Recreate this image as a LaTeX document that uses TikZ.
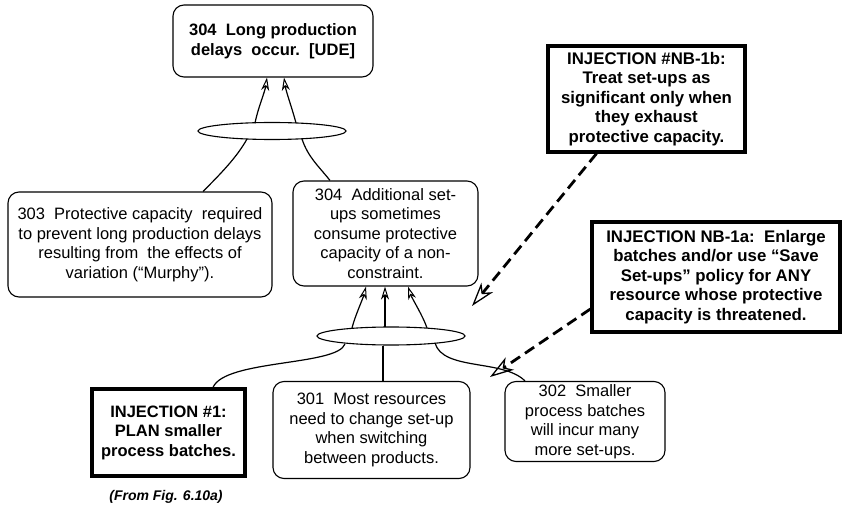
\documentclass[tikz,border=0pt]{standalone}
\usepackage{fontspec}
\setmainfont{Liberation Sans}
\usetikzlibrary{shapes.geometric,arrows.meta,calc}
\begin{document}
\begin{tikzpicture}[x=1pt,y=-1pt,
  every node/.style={font=\fontsize{16.5}{19.5}\selectfont, align=center, inner sep=0pt},
  rbox/.style={draw, rounded corners=11pt, line width=1.1pt},
  ibox/.style={draw, line width=3.2pt, font=\fontsize{16.8}{19.5}\selectfont\bfseries},
  oval/.style={draw, ellipse, line width=1.1pt, inner sep=0pt},
  arr/.style={line width=1.2pt, -{Stealth[open,length=13pt,width=8pt,inset=4pt,line width=1pt]}},
  conn/.style={line width=1.2pt},
  darr/.style={line width=2.8pt, dash pattern=on 11pt off 6pt, -{Stealth[open,length=24pt,width=15pt,inset=7pt,line width=1.3pt]}}
]
\useasboundingbox (0,0) rectangle (845,510);

\node[rbox, minimum width=200pt, minimum height=72pt, font=\fontsize{16.5}{19.5}\selectfont\bfseries] (ude) at (273,41) {304\ \ Long production\\delays\ \ occur.\ \ [UDE]};
\node[oval, minimum width=148pt, minimum height=17pt] (e1) at (272,131) {};
\node[rbox, minimum width=264pt, minimum height=105pt] (b303) at (140,244.5) {303\ \ Protective capacity\ \ required\\to prevent long production delays\\resulting from\ \ the effects of\\variation (“Murphy”).};
\node[rbox, minimum width=185pt, minimum height=105pt] (b304) at (385.5,233.5) {304\ \ Additional set-\\ups sometimes\\consume protective\\capacity of a non-\\constraint.};
\node[oval, minimum width=148pt, minimum height=18pt] (e2) at (391,336) {};
\node[ibox, font=\fontsize{16.5}{19.5}\selectfont\bfseries, minimum width=153pt, minimum height=87pt] (inj1) at (168.5,432.5) {INJECTION \#1:\\PLAN smaller\\process batches.};
\node[rbox, minimum width=197pt, minimum height=97pt] (b301) at (371.5,430) {301\ \ Most resources\\need to change set-up\\when switching\\between products.};
\node[rbox, minimum width=160pt, minimum height=80pt] (b302) at (585,421.5) {302\ \ Smaller\\process batches\\will incur many\\more set-ups.};
\node[font=\fontsize{14}{16}\selectfont\bfseries\itshape] (src) at (166,497) {(From Fig. 6.10a)};
\node[ibox, minimum width=197pt, minimum height=106pt] (nb1b) at (646.5,99) {INJECTION \#NB-1b:\\Treat set-ups as\\significant only when\\they exhaust\\protective capacity.};
\node[ibox, minimum width=248pt, minimum height=110pt] (nb1a) at (716,277) {INJECTION NB-1a:\ \ Enlarge\\batches and/or use “Save\\Set-ups” policy for ANY\\resource whose protective\\capacity is threatened.};

\draw[arr] ($(e1.center)+(-17,-8)$) .. controls +(3,-15) and +(-2,14) .. ($(ude.south)+(-6,0)$);
\draw[arr] ($(e1.center)+(24,-8)$) .. controls +(-4,-15) and +(2,14) .. ($(ude.south)+(11,0)$);
\draw[conn] ($(b303.north)+(63,0)$) .. controls +(18,-18) and +(-10,18) .. ($(e1.center)+(-25,8)$);
\draw[conn] ($(b304.north)+(-55.5,0)$) .. controls +(-12,-15) and +(6,18) .. ($(e1.center)+(30,8)$);

\draw[arr] ($(e2.center)+(-39,-8)$) .. controls +(3,-12) and +(-3,12) .. ($(b304.south)+(-19.5,0)$);
\draw[arr] ($(e2.center)+(-6,-9)$) -- ($(b304.south)+(-0.5,0)$);
\draw[arr] ($(e2.center)+(36,-8)$) .. controls +(-4,-12) and +(4,12) .. ($(b304.south)+(22.5,0)$);

\draw[conn] ($(inj1.north)+(44.5,0)$) .. controls +(12,-28) and +(-8,22) .. ($(e2.center)+(-46,8)$);
\draw[conn] ($(e2.south)+(-8,0)$) -- ($(b301.north)+(11.5,0)$);
\draw[conn] ($(e2.center)+(44,7)$) .. controls +(8,28) and +(-22,-22) .. ($(b302.north)+(-60,0)$);

\coordinate (t1) at (472,306);
\coordinate (t2) at (490,377);
\draw[darr] ($(nb1b.south)+(-50,0)$) -- (t1);
\draw[darr] ($(nb1a.west)+(0,32)$) -- (t2);
\end{tikzpicture}
\end{document}
